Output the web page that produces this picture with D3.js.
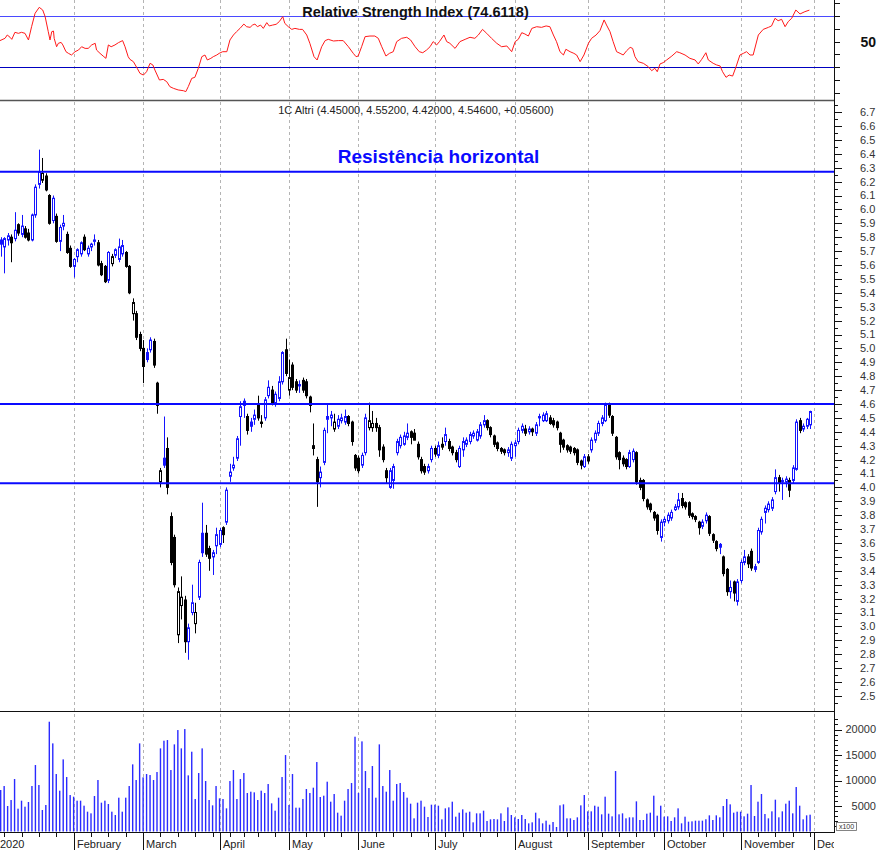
<!DOCTYPE html>
<html><head><meta charset="utf-8">
<script src="https://cdn.jsdelivr.net/npm/d3@7"></script>
<style>body{margin:0;background:#fff;} svg{display:block;font-family:"Liberation Sans",Arial,sans-serif;}</style>
</head><body><svg id="c" width="880" height="850"></svg>
<script>
// ---------------- DATA ----------------
const open=[5.62,5.78,5.73,5.78,5.80,5.79,5.89,5.82,5.86,5.83,5.78,5.96,6.18,6.21,6.24,6.10,5.92,5.95,5.77,5.88,5.82,5.72,
5.59,5.66,5.68,5.80,5.68,5.73,5.77,5.76,5.61,5.59,5.49,5.61,5.67,5.64,5.68,5.69,5.59,5.25,5.25,5.10,
5.00,4.97,4.99,5.05,4.75,4.04,4.21,4.28,3.79,3.64,2.94,3.15,3.19,2.89,3.10,3.02,3.21,3.67,3.67,3.56,3.50,3.58,
3.59,3.71,3.75,4.08,4.14,4.21,4.51,4.62,4.51,4.47,4.49,4.60,4.47,4.50,4.66,4.70,4.61,4.64,4.76,4.99,
4.70,4.88,4.76,4.73,4.77,4.76,4.65,4.30,4.20,4.07,4.18,4.49,4.50,4.42,4.44,4.48,4.47,4.51,4.47,4.23,
4.21,4.16,4.25,4.43,4.43,4.46,4.43,4.29,4.12,4.00,4.05,4.25,4.30,4.31,4.36,4.40,4.39,4.31,4.20,4.15,4.12,4.20,
4.28,4.23,4.31,4.33,4.33,4.29,4.25,4.15,4.27,4.31,4.33,4.37,4.34,4.37,4.45,4.48,4.43,4.37,4.32,4.28,4.27,4.25,4.21,
4.30,4.33,4.41,4.42,4.40,4.42,4.39,4.50,4.48,4.48,4.50,4.48,4.47,4.39,4.34,4.30,4.29,4.28,4.27,4.19,4.15,
4.22,4.27,4.34,4.39,4.46,4.48,4.59,4.51,4.36,4.25,4.21,4.20,4.15,4.20,4.25,4.05,4.05,3.91,3.88,3.82,3.80,3.64,
3.75,3.76,3.78,3.84,3.86,3.92,3.89,3.89,3.81,3.79,3.75,3.72,3.76,3.79,3.66,3.61,3.59,3.50,3.41,3.25,3.32,3.18,
3.33,3.46,3.50,3.54,3.41,3.46,3.68,3.82,3.84,3.85,3.97,4.07,4.04,4.04,4.05,4.05,4.13,4.48,4.42,4.44,4.45];
const high=[5.74,5.80,5.80,5.83,5.82,5.98,5.90,5.96,5.88,5.86,5.97,6.18,6.43,6.37,6.26,6.11,6.10,5.97,5.89,5.96,5.84,5.74,
5.65,5.72,5.77,5.82,5.74,5.76,5.82,5.78,5.63,5.60,5.70,5.68,5.72,5.79,5.78,5.70,5.60,5.36,5.27,5.12,
5.06,5.00,5.08,5.07,4.76,4.14,4.51,4.36,3.82,3.66,3.28,3.36,3.22,3.02,3.30,3.17,3.48,3.89,3.73,3.58,3.55,3.71,
3.71,3.72,4.00,4.17,4.22,4.37,4.62,4.64,4.53,4.50,4.56,4.66,4.52,4.65,4.77,4.73,4.69,4.80,4.98,5.07,
4.92,4.90,4.78,4.77,4.79,4.78,4.66,4.46,4.22,4.15,4.43,4.60,4.55,4.53,4.52,4.53,4.56,4.52,4.48,4.24,
4.23,4.25,4.53,4.61,4.55,4.50,4.45,4.31,4.14,4.14,4.17,4.35,4.38,4.40,4.46,4.41,4.42,4.33,4.22,4.17,4.17,4.30,
4.30,4.33,4.36,4.43,4.35,4.30,4.27,4.30,4.36,4.36,4.40,4.41,4.42,4.47,4.52,4.49,4.44,4.38,4.33,4.29,4.28,4.29,4.33,
4.34,4.43,4.46,4.45,4.44,4.43,4.47,4.53,4.54,4.55,4.52,4.50,4.48,4.40,4.35,4.31,4.30,4.29,4.28,4.20,4.24,
4.24,4.36,4.41,4.48,4.52,4.61,4.61,4.52,4.37,4.26,4.23,4.21,4.27,4.28,4.26,4.07,4.06,3.92,3.89,3.83,3.81,3.77,
3.79,3.82,3.84,3.88,3.96,3.96,3.90,3.90,3.82,3.80,3.76,3.77,3.82,3.80,3.67,3.62,3.60,3.51,3.42,3.33,3.33,3.34,
3.48,3.55,3.52,3.56,3.45,3.71,3.79,3.87,3.90,3.93,4.13,4.09,4.07,4.08,4.07,4.16,4.49,4.50,4.46,4.50,4.552];
const low=[5.58,5.66,5.54,5.74,5.62,5.77,5.81,5.80,5.79,5.77,5.77,5.94,6.15,6.19,6.13,5.89,5.90,5.76,5.70,5.85,5.68,5.58,
5.51,5.62,5.66,5.70,5.66,5.70,5.74,5.59,5.52,5.47,5.47,5.59,5.65,5.62,5.66,5.58,5.39,5.20,5.06,4.98,
4.75,4.90,4.97,4.86,4.53,4.00,4.14,3.95,3.44,3.28,2.88,3.05,2.81,2.76,3.08,2.95,3.19,3.50,3.50,3.40,3.37,3.52,
3.57,3.60,3.73,4.04,4.12,4.19,4.30,4.50,4.38,4.40,4.45,4.48,4.43,4.48,4.64,4.59,4.58,4.62,4.74,4.80,
4.66,4.70,4.68,4.68,4.68,4.64,4.54,4.23,3.86,4.00,4.16,4.39,4.44,4.40,4.42,4.46,4.45,4.44,4.30,4.12,
4.10,4.14,4.23,4.41,4.40,4.40,4.22,4.18,4.03,3.99,3.99,4.23,4.28,4.30,4.34,4.31,4.34,4.20,4.10,4.09,4.10,4.18,
4.22,4.21,4.27,4.30,4.26,4.23,4.18,4.14,4.22,4.29,4.31,4.35,4.33,4.35,4.43,4.41,4.36,4.29,4.26,4.24,4.23,4.22,4.19,
4.22,4.31,4.39,4.37,4.38,4.37,4.37,4.44,4.47,4.47,4.45,4.43,4.41,4.25,4.27,4.25,4.24,4.23,4.16,4.13,4.14,
4.17,4.25,4.32,4.37,4.44,4.47,4.50,4.37,4.20,4.13,4.15,4.13,4.14,4.18,4.02,3.98,3.90,3.84,3.82,3.76,3.66,3.61,
3.72,3.74,3.76,3.83,3.84,3.85,3.84,3.78,3.77,3.75,3.66,3.70,3.74,3.65,3.60,3.54,3.52,3.36,3.22,3.20,3.18,3.15,
3.31,3.44,3.42,3.40,3.39,3.45,3.66,3.74,3.82,3.83,3.95,3.97,3.91,4.00,3.93,4.03,4.12,4.39,4.40,4.42,4.42];
const close=[5.72,5.75,5.79,5.81,5.76,5.85,5.83,5.88,5.80,5.78,5.96,6.16,6.27,6.26,6.14,5.90,6.08,5.77,5.87,5.90,5.69,5.59,
5.64,5.71,5.76,5.71,5.72,5.75,5.78,5.60,5.53,5.48,5.69,5.66,5.71,5.73,5.74,5.59,5.40,5.33,5.08,5.00,
4.87,4.92,5.06,4.88,4.59,4.12,4.16,4.00,3.46,3.30,3.25,3.21,2.89,2.99,3.17,3.10,3.46,3.53,3.52,3.49,3.53,3.66,
3.69,3.66,3.98,4.11,4.16,4.35,4.58,4.59,4.41,4.44,4.52,4.50,4.46,4.63,4.72,4.61,4.67,4.76,4.97,4.82,
4.79,4.72,4.70,4.74,4.70,4.66,4.59,4.28,4.04,4.11,4.41,4.51,4.52,4.47,4.49,4.50,4.51,4.46,4.33,4.14,
4.12,4.23,4.50,4.48,4.46,4.43,4.27,4.20,4.07,4.12,4.15,4.33,4.36,4.37,4.39,4.36,4.34,4.22,4.12,4.11,4.15,4.28,
4.24,4.30,4.29,4.38,4.28,4.25,4.20,4.28,4.33,4.34,4.38,4.39,4.40,4.45,4.48,4.43,4.38,4.31,4.28,4.26,4.25,4.27,4.31,
4.32,4.41,4.44,4.39,4.42,4.40,4.45,4.51,4.52,4.53,4.46,4.45,4.43,4.31,4.29,4.27,4.26,4.25,4.18,4.16,4.22,
4.19,4.34,4.39,4.46,4.50,4.59,4.52,4.39,4.22,4.20,4.17,4.15,4.25,4.26,4.04,4.00,3.92,3.86,3.84,3.78,3.69,3.75,
3.77,3.80,3.82,3.86,3.91,3.87,3.86,3.80,3.79,3.77,3.71,3.75,3.80,3.67,3.62,3.56,3.57,3.38,3.25,3.28,3.24,3.32,
3.46,3.50,3.45,3.42,3.43,3.69,3.77,3.85,3.88,3.91,4.07,4.03,4.05,4.06,3.98,4.14,4.47,4.41,4.44,4.49,4.546];
const volume=[7000,8134,8918,4998,6174,10290,4475,6043,4867,5782,8918,
13033,9114,4214,5194,21526,17280,11270,8003,14144,10682,
7154,6827,6043,6043,5063,3887,3560,6958,10094,5651,
6043,5390,3887,3234,6631,3887,6631,8918,13164,10094,
17280,10616,11270,11073,10094,11661,16300,17803,17933,12054,
17084,19893,16300,20089,11008,15647,6370,11465,16300,9898,
6174,5128,8918,6500,6370,4540,9898,12054,6370,10290,
11465,7546,7807,7676,6174,8003,7546,9310,5520,4083,
6631,10682,14993,5194,11270,4671,4671,6370,8330,7546,
8591,13621,6762,7023,9767,5847,7350,3691,3103,6043,
8330,9506,18587,7546,17672,11857,8526,12837,6631,17084,
8918,7807,12054,6043,9310,9506,7742,6631,5455,2581,
5651,6043,4867,2842,5259,5259,5063,
2385,4540,4736,5847,2907,3691,4344,3691,3887,1797,
3560,3560,4083,2058,2385,2450,2385,3560,2058,4736,
3234,2777,2450,3234,2450,1601,1797,3691,2581,1601,
2123,1339,1862,882,5128,5324,2581,2581,2254,2777,
5128,7154,3952,3952,5063,4867,3364,6827,3495,2973,
11857,3364,3560,2581,2777,2777,5912,2254,2254,3495,
3691,7023,3103,5063,2907,2973,2058,2777,4540,1601,
2907,1927,1993,2123,2123,2123,2400,3168,2254,3168,2777,
4998,6370,5324,3691,3887,3887,2973,3495,9114,3038,
5847,7350,3430,2581,3952,6239,2777,3952,5455,6043,
3560,8722,5063,2385,3168,3300];
const rsiDay=[0.8,2.25,2.9,3.7,4.2,5.1,6.1,7.0,8.0,9.0,9.9,10.9,12.1,13.1,13.8,14.7,15.2,15.7,16.2,16.4,17.1,17.6,18.4,18.9,19.8,20.5,21.4,22.4,23.4,24.3,25.3,26.2,27.2,28.2,28.6,29.6,30.7,31.3,32.0,32.8,33.9,34.9,36.1,36.8,37.7,38.2,39.2,40.3,41.1,42.1,43.0,44.0,44.8,45.4,46.7,47.8,48.8,49.7,50.7,52.1,53.6,54.3,55.0,56.0,56.9,57.9,58.9,59.8,60.5,61.5,62.2,63.2,63.9,64.9,66.1,67.0,68.0,68.9,69.9,71.0,71.8,72.8,73.5,74.2,74.9,75.8,76.6,77.6,78.3,79.3,80.3,81.2,82.2,82.8,83.8,84.8,85.7,87.0,87.9,89.1,90.0,91.2,92.1,93.4,94.4,95.3,96.8,98.2,99.6,101.1,102.5,103.3,103.9,104.9,105.9,107.3,108.7,109.7,110.7,111.9,112.9,114.0,115.0,116.4,117.9,119.0,120.3,121.5,122.5,123.6,124.6,125.5,126.5,127.3,
128.6,129.4,130.3,131.8,133.2,134.7,136.1,137.5,138.5,139.7,140.9,142.3,143.8,145.2,146.7,148.1,149.1,150.0,151.0,151.9,152.9,153.9,155.3,156.7,158.0,159.1,160.1,161.0,162.0,163.0,163.7,164.9,166.0,166.8,167.8,168.9,170.2,171.1,172.4,173.5,174.7,175.4,176.4,177.3,178.3,179.3,180.2,181.2,182.2,182.9,183.6,184.5,186.0,187.4,188.4,189.3,190.0,190.8,191.7,192.7,194.2,195.6,196.5,198.0,199.4,200.9,201.8,202.8,204.0,204.7,206.1,207.1,208.1,208.8,209.8,210.7,211.7,212.7,213.8,214.8,215.7,216.7,217.6,219.1,220.5,222.0,222.9,223.9,224.8,225.8,226.8,227.7,228.7,229.9,231.1,232.5,233.8];
const rsiValue=[50.7,52.5,55.1,53.3,51.7,57.2,56.4,57.2,56.4,51.2,61.6,72.1,76.8,74.7,69.5,57.7,51.2,57.7,58.2,52.5,45.9,48.6,49.3,47.3,42.0,40.7,39.4,42.0,43.3,45.9,44.6,44.6,47.3,48.6,43.3,40.7,38.1,36.8,47.3,45.9,47.3,49.1,50.7,45.9,38.1,36.0,34.2,29.0,25.0,23.7,26.3,32.9,31.6,27.6,19.8,20.3,18.5,14.6,13.3,12.0,11.4,10.7,14.6,21.1,21.9,29.0,38.1,39.4,35.5,36.8,38.1,39.4,40.7,42.0,42.0,51.2,55.1,57.7,60.3,63.7,61.6,61.1,62.9,63.7,61.6,62.9,60.3,64.8,62.2,62.9,63.5,65.6,69.5,64.2,61.6,59.5,60.3,59.5,59.5,55.1,48.6,38.1,35.5,45.9,50.7,51.7,50.4,50.7,50.7,45.9,40.7,38.1,38.6,45.9,53.8,54.3,54.3,52.5,45.9,38.6,40.7,42.0,49.9,52.5,53.3,51.2,45.9,42.0,41.2,43.3,45.9,49.9,47.3,49.9,
55.1,49.9,48.6,44.6,49.9,51.7,53.3,52.5,55.1,59.5,56.4,52.5,48.6,45.9,46.5,42.0,49.9,51.7,56.9,55.9,54.3,60.3,61.6,61.1,62.2,61.6,55.1,49.9,42.0,39.4,43.9,42.0,40.7,39.4,34.2,39.4,48.6,52.5,55.1,58.5,66.9,62.9,57.7,49.9,42.0,40.7,39.4,42.8,45.4,44.6,38.1,34.2,32.9,30.3,27.1,29.0,26.3,32.4,33.4,35.5,38.6,42.0,41.2,39.4,36.8,35.5,32.4,36.0,41.2,35.5,32.9,31.6,30.8,26.3,21.9,23.7,22.9,30.3,39.4,40.7,42.0,39.4,39.4,55.1,59.5,61.1,62.2,68.2,66.3,67.4,61.6,65.6,68.2,74.7,71.6,73.4,74.6118];
const holidays=["2020-04-10","2020-04-13","2020-05-01"];
const monthLabels=["2020","February","March","April","May","June","July","August","September","October","November","Dec"];
const resistanceLevels=[6.27,4.60,4.03];
const priceLabels=[2.5,2.6,2.7,2.8,2.9,3.0,3.1,3.2,3.3,3.4,3.5,3.6,3.7,3.8,3.9,4.0,4.1,4.2,4.3,4.4,4.5,4.6,4.7,4.8,4.9,5.0,5.1,5.2,5.3,5.4,5.5,5.6,5.7,5.8,5.9,6.0,6.1,6.2,6.3,6.4,6.5,6.6,6.7];
const volumeLabels=[5000,10000,15000,20000];
const rsiTicks=[10,20,30,40,50,60,70,80];
const rsiBands=[70,30];
const rsiLabel=[50];

// ---------------- CHART ----------------
const svg=d3.select("#c");
const R=834; // right edge of plotting area
const x=d3.scaleLinear().domain([0,234]).range([-2.8,810.1]);
const yP=d3.scaleLinear().domain([2.5,6.7]).range([695.9,112.1]);
const yV=d3.scaleLinear().domain([0,20000]).range([831.5,729.5]);
const yR=d3.scaleLinear().domain([30,70]).range([67,16]);

const fmtDay=d3.timeFormat("%Y-%m-%d");
const dates=[]; let dd=new Date(2020,0,2);
while(dates.length<close.length){const wd=dd.getDay(); if(wd>0&&wd<6&&!holidays.includes(fmtDay(dd))) dates.push(new Date(dd)); dd=d3.timeDay.offset(dd,1);}
const monthStarts=[]; dates.forEach((dt,i)=>{if(i===0||dt.getMonth()!==dates[i-1].getMonth()) monthStarts.push(i);}); monthStarts.push(dates.length);
const weekStarts=[]; dates.forEach((dt,i)=>{if(i>0&&+d3.timeMonday.floor(dt)!==+d3.timeMonday.floor(dates[i-1])) weekStarts.push(i);});

const defs=svg.append("defs");
defs.append("clipPath").attr("id","cr").append("rect").attr("x",0).attr("y",0).attr("width",R).attr("height",100);
defs.append("clipPath").attr("id","cp").append("rect").attr("x",0).attr("y",101).attr("width",R).attr("height",610);
defs.append("clipPath").attr("id","cv").append("rect").attr("x",0).attr("y",712).attr("width",R).attr("height",120);
defs.append("clipPath").attr("id","ca").append("rect").attr("x",0).attr("y",0).attr("width",R).attr("height",850);

const px=i=>Math.round(x(i));

// month gridlines (dashed)
svg.append("g").selectAll("line").data(monthStarts.slice(1)).join("line")
 .attr("x1",i=>px(i)+0.5).attr("x2",i=>px(i)+0.5).attr("y1",0).attr("y2",832)
 .attr("stroke","#b4b4b4").attr("stroke-dasharray","3,3");

// candles
const gC=svg.append("g").attr("clip-path","url(#cp)");
const idx=d3.range(close.length);
const colorOf=i=>(close[i]>=(i>0?close[i-1]:open[i]))?"#1414ff":"#000";
gC.selectAll("line").data(idx).join("line")
 .attr("x1",i=>px(i)+0.5).attr("x2",i=>px(i)+0.5)
 .attr("y1",i=>yP(high[i])).attr("y2",i=>yP(low[i]))
 .attr("stroke",colorOf).attr("stroke-width",1);
gC.selectAll("rect").data(idx).join("rect")
 .attr("x",i=>px(i)-0.5).attr("width",2)
 .attr("y",i=>yP(Math.max(open[i],close[i])))
 .attr("height",i=>Math.max(1,Math.abs(yP(open[i])-yP(close[i]))))
 .attr("fill",i=>close[i]>=open[i]?"#fff":colorOf(i))
 .attr("stroke",colorOf).attr("stroke-width",1);

// resistance lines
svg.append("g").selectAll("line").data(resistanceLevels).join("line")
 .attr("x1",0).attr("x2",R).attr("y1",d=>yP(d)).attr("y2",d=>yP(d))
 .attr("stroke","#0a0aff").attr("stroke-width",2);

svg.append("text").attr("x",438.5).attr("y",163).attr("text-anchor","middle")
 .attr("font-size",19).attr("font-weight","bold").attr("fill","#0a0aff").text("Resistência horizontal");

// volume
svg.append("g").attr("clip-path","url(#cv)").selectAll("rect").data(idx).join("rect")
 .attr("x",i=>x(i)-0.7).attr("width",1.4)
 .attr("y",i=>yV(volume[i])).attr("height",i=>yV(0)-yV(volume[i]))
 .attr("fill","#2a2aff");

// RSI
const gR=svg.append("g").attr("clip-path","url(#cr)");
gR.selectAll("line").data(rsiBands).join("line")
 .attr("x1",0).attr("x2",R).attr("y1",d=>Math.round(yR(d))+0.5).attr("y2",d=>Math.round(yR(d))+0.5)
 .attr("stroke",(d,i)=>i===0?"#4a4aff":"#0000c0").attr("stroke-width",1);
const rsiPts=rsiDay.map((d,i)=>[d,rsiValue[i]]);
gR.append("path").datum(rsiPts).attr("fill","none").attr("stroke","#ff1a1a").attr("stroke-width",1)
 .attr("d",d3.line().x(d=>x(d[0])).y(d=>yR(d[1])));

// panel separators
svg.append("line").attr("x1",0).attr("x2",R).attr("y1",100.5).attr("y2",100.5).attr("stroke","#555").attr("stroke-width",1.5);
svg.append("line").attr("x1",0).attr("x2",R).attr("y1",711.5).attr("y2",711.5).attr("stroke","#111");
svg.append("line").attr("x1",0).attr("x2",R+1).attr("y1",832.5).attr("y2",832.5).attr("stroke","#111");
svg.append("line").attr("x1",R+0.5).attr("x2",R+0.5).attr("y1",0).attr("y2",832).attr("stroke","#111");

// titles
svg.append("text").attr("x",415.5).attr("y",17).attr("text-anchor","middle").attr("font-size",14.5).attr("font-weight","bold").attr("fill","#111")
 .text(`Relative Strength Index (${d3.format(".4f")(rsiValue[rsiValue.length-1])})`);
const L=close.length-1, f5=d3.format(".5f"), s5=d3.format("+.5f");
svg.append("text").attr("x",416).attr("y",114).attr("text-anchor","middle").attr("font-size",11).attr("fill","#222")
 .text(`1C Altri (${f5(open[L])}, ${f5(high[L])}, ${f5(low[L])}, ${f5(close[L])}, ${s5(close[L]-close[L-1])})`);

// right axis: RSI
const ax=svg.append("g");
ax.selectAll(".rt").data(rsiTicks).join("line").attr("class","rt")
 .attr("x1",R).attr("x2",R+6).attr("y1",d=>Math.round(yR(d))+0.5).attr("y2",d=>Math.round(yR(d))+0.5).attr("stroke","#111");
ax.selectAll(".rl").data(rsiLabel).join("text").attr("class","rl")
 .attr("x",876).attr("y",d=>yR(d)).attr("dy","0.36em").attr("text-anchor","end")
 .attr("font-size",14).attr("font-weight","bold").attr("fill","#111").text(d=>d);

// right axis: price
const pTicks=d3.range(49,136).map(k=>k/20);
ax.selectAll(".pt").data(pTicks).join("line").attr("class","pt")
 .attr("x1",R).attr("x2",(d,i)=>R+(i%2===1?8:4))
 .attr("y1",d=>Math.round(yP(d))+0.5).attr("y2",d=>Math.round(yP(d))+0.5).attr("stroke","#111");
ax.selectAll(".pl").data(priceLabels).join("text").attr("class","pl")
 .attr("x",860).attr("y",d=>yP(d)).attr("dy","0.36em")
 .attr("font-size",11).attr("fill","#333").text(d=>d3.format(".1f")(d));

// right axis: volume
const vTicks=d3.range(1,23).map(k=>k*1000);
ax.selectAll(".vt").data(vTicks).join("line").attr("class","vt")
 .attr("x1",R).attr("x2",d=>R+(d%5000===0?8:4))
 .attr("y1",d=>Math.round(yV(d))+0.5).attr("y2",d=>Math.round(yV(d))+0.5).attr("stroke","#111");
ax.selectAll(".vl").data(volumeLabels).join("text").attr("class","vl")
 .attr("x",876).attr("y",d=>yV(d)).attr("dy","0.36em").attr("text-anchor","end")
 .attr("font-size",11).attr("fill","#333").text(d=>d);
ax.append("rect").attr("x",836.5).attr("y",822.5).attr("width",20).attr("height",8).attr("fill","#fff").attr("stroke","#666").attr("stroke-width",0.8);
ax.append("text").attr("x",846.5).attr("y",829.3).attr("text-anchor","middle").attr("font-size",7).attr("fill","#333").text("x100");

// bottom axis
const bx=svg.append("g").attr("clip-path","url(#ca)");
bx.selectAll(".wt").data(weekStarts).join("line").attr("class","wt")
 .attr("x1",i=>px(i)+0.5).attr("x2",i=>px(i)+0.5).attr("y1",832).attr("y2",837).attr("stroke","#111");
bx.selectAll(".mt").data(monthStarts.slice(1)).join("line").attr("class","mt")
 .attr("x1",i=>px(i)+0.5).attr("x2",i=>px(i)+0.5).attr("y1",832).attr("y2",850).attr("stroke","#111");
bx.selectAll(".ml").data(monthStarts).join("text").attr("class","ml")
 .attr("x",(i,k)=>k===0?0:px(i)+3).attr("y",848)
 .attr("font-size",11).attr("fill","#222").text((i,k)=>monthLabels[k]);
</script></body></html>
